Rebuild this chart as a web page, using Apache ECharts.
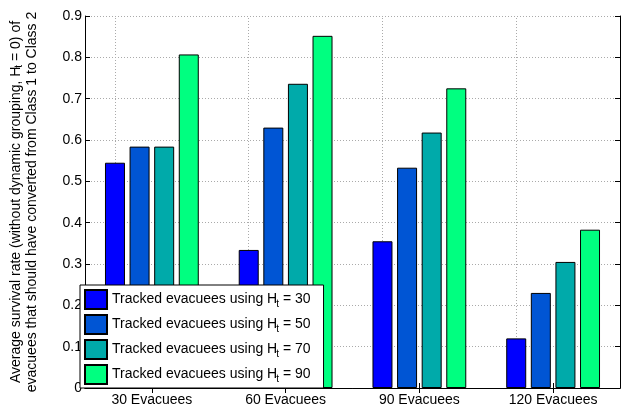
<!DOCTYPE html>
<html><head><meta charset="utf-8">
<script src="https://cdn.jsdelivr.net/npm/echarts@6/dist/echarts.min.js"></script>
<style>html,body{margin:0;padding:0;background:#fff}#c{width:634px;height:408px}</style>
</head><body><div id="c"></div>
<script>
const categories = ['30 Evacuees', '60 Evacuees', '90 Evacuees', '120 Evacuees'];
const seriesNames = ['Tracked evacuees using H_t = 30', 'Tracked evacuees using H_t = 50', 'Tracked evacuees using H_t = 70', 'Tracked evacuees using H_t = 90'];
const ht30 = [0.545, 0.334, 0.355, 0.120];
const ht50 = [0.584, 0.630, 0.533, 0.230];
const ht70 = [0.584, 0.736, 0.618, 0.305];
const ht90 = [0.807, 0.852, 0.725, 0.383];
const seriesColors = ['#0000FF', '#0055D4', '#00AAAA', '#00FF80'];
const yLabel = 'Average survival rate (without dynamic grouping, H_t = 0) of\nevacuees that should have converted from Class 1 to Class 2';

const FONT = '"Liberation Sans", Arial, Helvetica, sans-serif';
const toRich = s => s.replace(/H_t/g, 'H{sub|t}');
const subStyle = { fontSize: 10, fontFamily: FONT, color: '#000', verticalAlign: 'bottom', lineHeight: 10, padding: [0, 0, 0, -1] };
const dataSets = [ht30, ht50, ht70, ht90];

const chart = echarts.init(document.getElementById('c'), null, { renderer: 'canvas' });
const gridLine = { color: '#aaa', type: [1, 2], width: 1 };
chart.setOption({
  animation: false,
  backgroundColor: '#fff',
  textStyle: { fontFamily: FONT },
  grid: { left: 80, right: 14, top: 16, bottom: 20, containLabel: false },
  legend: {
    orient: 'vertical', left: 80, bottom: 20,
    backgroundColor: '#fff', borderColor: '#000', borderWidth: 1,
    padding: [4, 13, 3, 4], itemWidth: 22, itemHeight: 19, itemGap: 4,
    icon: 'rect',
    data: seriesNames,
    formatter: name => toRich(name),
    textStyle: { fontSize: 14, color: '#000', fontFamily: FONT, lineHeight: 19,
      rich: { sub: subStyle } }
  },
  xAxis: [{
    type: 'category', data: categories, position: 'bottom',
    axisLine: { show: true, lineStyle: { color: '#000', width: 1 } },
    axisTick: { show: true, inside: true, length: 5, alignWithLabel: true, lineStyle: { color: '#000' } },
    axisLabel: { fontSize: 14, color: '#000', margin: 5, fontFamily: FONT },
    splitLine: { show: false }
  }, {
    type: 'category', data: categories, position: 'top',
    axisLine: { show: true, lineStyle: { color: '#000', width: 1 } },
    axisTick: { show: true, inside: true, length: 5, alignWithLabel: true, lineStyle: { color: '#000' } },
    axisLabel: { show: false }, splitLine: { show: false }
  }],
  yAxis: [{
    type: 'value', min: 0, max: 0.9, interval: 0.1, position: 'left',
    name: toRich(yLabel), nameLocation: 'middle', nameRotate: 90, nameGap: 45,
    nameTextStyle: { fontSize: 14, color: '#000', fontFamily: FONT, lineHeight: 16, rich: { sub: subStyle } },
    axisLine: { show: true, lineStyle: { color: '#000', width: 1 } },
    axisTick: { show: true, inside: true, length: 5, lineStyle: { color: '#000' } },
    axisLabel: { fontSize: 14, color: '#000', margin: 3, fontFamily: FONT },
    splitLine: { show: true, lineStyle: gridLine }
  }, {
    type: 'value', min: 0, max: 0.9, interval: 0.1, position: 'right',
    axisLine: { show: true, lineStyle: { color: '#000', width: 1 } },
    axisTick: { show: true, inside: true, length: 5, lineStyle: { color: '#000' } },
    axisLabel: { show: false }, splitLine: { show: false }
  }],
  series: seriesNames.map((n, i) => {
    const s = {
      name: n, type: 'bar', xAxisIndex: 0, yAxisIndex: 0, z: 3,
      data: dataSets[i], barWidth: 20, barGap: '23%',
      itemStyle: { color: seriesColors[i], borderColor: '#000', borderWidth: 1 }
    };
    if (i === 0) {
      s.markLine = {
        silent: true, symbol: ['none', 'none'], z: 1,
        label: { show: false },
        lineStyle: gridLine, animation: false,
        data: categories.map(c => ({ xAxis: c }))
      };
    }
    return s;
  })
});
</script></body></html>
